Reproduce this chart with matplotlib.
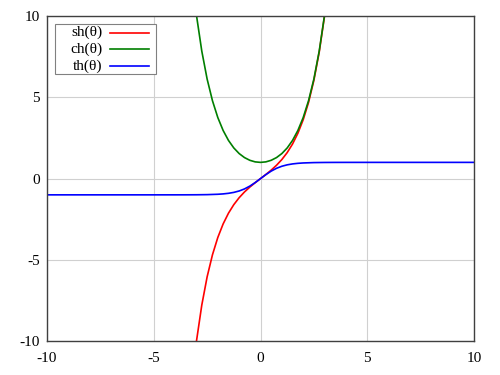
import matplotlib
matplotlib.use("Agg")
import matplotlib.pyplot as plt
from matplotlib.patches import Rectangle

plt.rcParams['font.family'] = ['Liberation Serif', 'DejaVu Serif']
plt.rcParams['axes.unicode_minus'] = False

x_hyp = [-3.0, -2.75, -2.5, -2.25, -2.0, -1.75, -1.5, -1.25, -1.0, -0.75, -0.5, -0.25, 0.0,
         0.25, 0.5, 0.75, 1.0, 1.25, 1.5, 1.75, 2.0, 2.25, 2.5, 2.75, 3.0]
sh = [-10.018, -7.789, -6.050, -4.691, -3.627, -2.790, -2.129, -1.602, -1.175, -0.822, -0.521, -0.253, 0.0,
      0.253, 0.521, 0.822, 1.175, 1.602, 2.129, 2.790, 3.627, 4.691, 6.050, 7.789, 10.018]
ch = [10.068, 7.853, 6.132, 4.797, 3.762, 2.964, 2.352, 1.888, 1.543, 1.295, 1.128, 1.031, 1.0,
      1.031, 1.128, 1.295, 1.543, 1.888, 2.352, 2.964, 3.762, 4.797, 6.132, 7.853, 10.068]
x_th = [-10, -8, -6, -5, -4, -3.5, -3, -2.5, -2, -1.75, -1.5, -1.25, -1, -0.75, -0.5, -0.25, 0,
        0.25, 0.5, 0.75, 1, 1.25, 1.5, 1.75, 2, 2.5, 3, 3.5, 4, 5, 6, 8, 10]
th = [-1.0, -1.0, -1.0, -0.9999, -0.9993, -0.9982, -0.9951, -0.9866, -0.9640, -0.9414, -0.9051, -0.8483,
      -0.7616, -0.6351, -0.4621, -0.2449, 0.0,
      0.2449, 0.4621, 0.6351, 0.7616, 0.8483, 0.9051, 0.9414, 0.9640, 0.9866, 0.9951, 0.9982, 0.9993,
      0.9999, 1.0, 1.0, 1.0]
labels = ['sh(θ)', 'ch(θ)', 'th(θ)']
colors = ['#ff0000', '#007f00', '#0000ff']

fig = plt.figure(figsize=(5, 3.75), dpi=100)
ax = fig.add_axes([0.094, 0.0907, 0.854, 0.866])
lines = []
lines += ax.plot(x_hyp, sh, color=colors[0], lw=1.2, label=labels[0])
lines += ax.plot(x_hyp, ch, color=colors[1], lw=1.2, label=labels[1])
lines += ax.plot(x_th, th, color=colors[2], lw=1.2, label=labels[2])
ax.set_xlim(-10, 10)
ax.set_ylim(-10, 10)
ax.set_xticks([-10, -5, 0, 5, 10])
ax.set_yticks([-10, -5, 0, 5, 10])
ax.grid(True, color='#d0d0d0', lw=0.8)
ax.set_axisbelow(True)
ax.tick_params(axis='x', length=0, labelsize=11, pad=8)
ax.tick_params(axis='y', length=0, labelsize=11, pad=5)
for s in ax.spines.values():
    s.set_color('#404040')
    s.set_linewidth(1.0)

# legend box (gnuplot style: label right-aligned, sample line after it)
box_l, box_r, box_b, box_t = 0.0194, 0.2553, 0.8206, 0.9754
ax.add_patch(Rectangle((box_l, box_b), box_r - box_l, box_t - box_b, transform=ax.transAxes,
                       facecolor='white', edgecolor='#808080', lw=0.8, zorder=5))
row_y = [0.9498, 0.8985, 0.8471]
for ln, yy in zip(lines, row_y):
    ax.text(0.1304, yy, ln.get_label(), transform=ax.transAxes, ha='right', va='center',
            fontsize=11, zorder=6)
    ax.plot([0.1475, 0.2396], [yy, yy], transform=ax.transAxes, color=ln.get_color(),
            lw=1.2, zorder=6, clip_on=False)
fig.savefig('out.png', dpi=100)
